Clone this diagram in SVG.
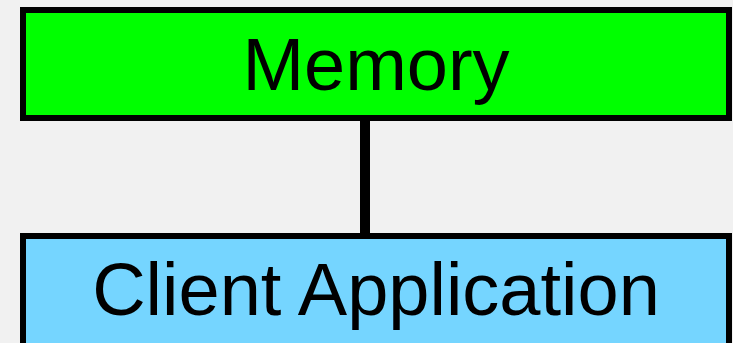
<svg xmlns="http://www.w3.org/2000/svg" width="733" height="343" viewBox="0 0 733 343">
  <style>
    .box { stroke: #000; stroke-width: 6; }
    .label { font-family: "Liberation Sans", Arial, sans-serif; font-size: 74px; fill: #000; text-anchor: middle; }
    .conn { stroke: #000; stroke-width: 10; fill: none; }
  </style>
  <rect x="0" y="0" width="733" height="343" fill="#f1f1f1"/>
  <g id="connectors">
    <line class="conn" x1="365" y1="118" x2="365" y2="236"/>
  </g>
  <g id="memory">
    <rect class="box" x="23" y="10" width="706" height="108" fill="#00ff00"/>
    <text class="label" x="376" y="89.5">Memory</text>
  </g>
  <g id="client-application">
    <rect class="box" x="23" y="236" width="706" height="120" fill="#75d5ff"/>
    <text class="label" x="376" y="315">Client Application</text>
  </g>
</svg>
